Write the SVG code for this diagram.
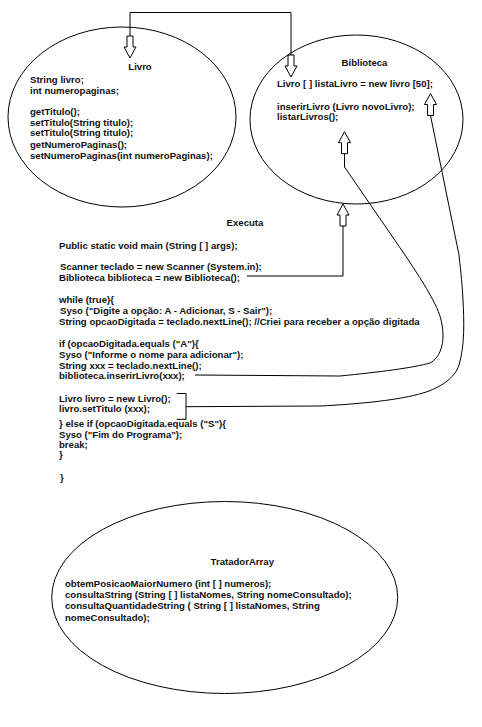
<svg xmlns="http://www.w3.org/2000/svg" xmlns:xlink="http://www.w3.org/1999/xlink" width="482" height="727" viewBox="0 0 482 727">
<style>
.bg{fill:#ffffff}
.shape{fill:none;stroke:#000;stroke-width:1}
.t{font-family:"Liberation Sans",Arial,sans-serif;font-weight:bold;font-size:9.6px;fill:#111}
.c{text-anchor:middle}
.wire{fill:none;stroke:#000;stroke-width:1}
.arr{fill:#fff;stroke:#000;stroke-width:1}
</style>
<defs>
<path id="arrow" d="M0,0 L6,11 L3,11 L3,22 L-3,22 L-3,11 L-6,11 Z"/>
</defs>
<rect class="bg" x="0" y="0" width="482" height="727"/>

<g id="livro">
<ellipse class="shape" cx="122" cy="117" rx="114" ry="90"/>
<text class="t c" x="140" y="70">Livro</text>
<text class="t" x="30" y="82.5">String livro;</text>
<text class="t" x="30" y="93.5">int numeropaginas;</text>
<text class="t" x="30" y="115.2">getTitulo();</text>
<text class="t" x="30" y="125.8">setTitulo(String titulo);</text>
<text class="t" x="30" y="136.3">setTitulo(String titulo);</text>
<text class="t" x="30" y="147.5">getNumeroPaginas();</text>
<text class="t" x="30" y="158.5">setNumeroPaginas(int numeroPaginas);</text>
</g>

<g id="biblioteca">
<ellipse class="shape" cx="356.5" cy="119.5" rx="106.5" ry="84.5"/>
<text class="t c" x="364.5" y="65.5">Biblioteca</text>
<text class="t" x="277" y="87">Livro [ ] listaLivro = new livro [50];</text>
<text class="t" x="277" y="109.5">inserirLivro (Livro novoLivro);</text>
<text class="t" x="277" y="120">listarLivros();</text>
</g>

<g id="executa">
<text class="t c" x="245" y="226">Executa</text>
<text class="t" x="59" y="249">Public static void main (String [ ] args);</text>
<text class="t" x="60" y="270">Scanner teclado = new Scanner (System.in);</text>
<text class="t" x="59" y="280.5">Biblioteca biblioteca = new Biblioteca();</text>
<text class="t" x="59" y="303">while (true){</text>
<text class="t" x="60" y="314">Syso ("Digite a opção: A - Adicionar, S - Sair");</text>
<text class="t" x="59" y="324.5">String opcaoDigitada = teclado.nextLine(); //Criei para receber a opção digitada</text>
<text class="t" x="59" y="347">if (opcaoDigitada.equals ("A"){</text>
<text class="t" x="59" y="358">Syso ("Informe o nome para adicionar");</text>
<text class="t" x="59" y="368.5">String xxx = teclado.nextLine();</text>
<text class="t" x="59" y="379">biblioteca.inserirLivro(xxx);</text>
<text class="t" x="59" y="402">Livro livro = new Livro();</text>
<text class="t" x="59" y="412">livro.setTitulo (xxx);</text>
<text class="t" x="59" y="427">} else if (opcaoDigitada.equals ("S"){</text>
<text class="t" x="59" y="437.5">Syso ("Fim do Programa");</text>
<text class="t" x="59" y="447.5">break;</text>
<text class="t" x="59" y="458">}</text>
<text class="t" x="60" y="480.5">}</text>
</g>

<g id="tratadorarray">
<ellipse class="shape" cx="224.7" cy="597.5" rx="173" ry="96"/>
<text class="t c" x="242.3" y="565">TratadorArray</text>
<text class="t" x="65" y="587">obtemPosicaoMaiorNumero (int [ ] numeros);</text>
<text class="t" x="65" y="598">consultaString (String [ ] listaNomes, String nomeConsultado);</text>
<text class="t" x="65" y="609">consultaQuantidadeString ( String [ ] listaNomes, String</text>
<text class="t" x="65" y="620.5">nomeConsultado);</text>
</g>

<g id="connectors">
<path class="wire" d="M130,36 V12.5 H291 V55"/>
<use xlink:href="#arrow" href="#arrow" class="arr" transform="translate(130,58) rotate(180)"/>
<use xlink:href="#arrow" href="#arrow" class="arr" transform="translate(291,77) rotate(180)"/>

<path class="wire" d="M247,276 H343 V226"/>
<use xlink:href="#arrow" href="#arrow" class="arr" transform="translate(343,204)"/>

<path class="wire" d="M195,375 L340,376 C380,372 412,368 430,363 C440,358 443,345 443,336 C443,320 438,310 433,300 C425,285 415,270 405,255 L344.5,167 V153.7"/>
<use xlink:href="#arrow" href="#arrow" class="arr" transform="translate(344.5,131.7)"/>

<path class="wire" d="M176.7,393.5 H186 V419.3 H176.7"/>
<path class="wire" d="M186,406.7 L320,406 C360,404 400,400 423,393 C440,388 455,378 459,365 C465,345 464,320 463,300 C462,280 460,265 459,255 L430.5,115.5"/>
<use xlink:href="#arrow" href="#arrow" class="arr" transform="translate(430.5,93.5)"/>
</g>
</svg>
